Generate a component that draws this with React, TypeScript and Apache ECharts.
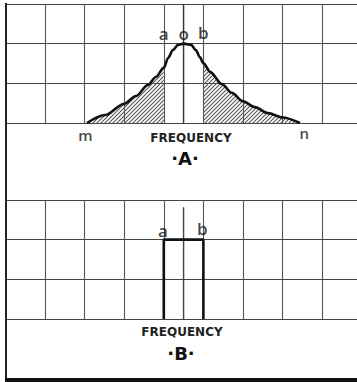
import React, { useEffect, useRef } from "react";
import * as echarts from "echarts";

// Panel A resonance curve (x in grid cells, y in grid cells)
const curveX = [2.06, 2.52, 2.99, 3.3, 3.6, 3.8, 4.0, 4.11, 4.23, 4.36, 4.5, 4.69, 4.81, 4.91, 5.0, 5.17, 5.47, 5.72, 6.0, 6.3, 6.63, 7.0, 7.44];
const curveY = [0, 0.2, 0.48, 0.68, 0.96, 1.16, 1.39, 1.64, 1.84, 1.97, 2.0, 1.97, 1.84, 1.66, 1.51, 1.29, 0.98, 0.76, 0.55, 0.4, 0.25, 0.14, 0];
const markA = 4.0;
const markO = 4.5;
const markB = 5.0;
// Panel B ideal band-pass rectangle
const rectX = [4.0, 4.0, 5.0, 5.0];
const rectY = [0, 2, 2, 0];
const labelsA = [
  { name: "a", x: 4.0, y: 2.25 },
  { name: "o", x: 4.5, y: 2.25 },
  { name: "b", x: 5.0, y: 2.28 },
];
const labelsEnds = [
  { name: "m", x: 2.02, y: -0.3 },
  { name: "n", x: 7.55, y: -0.24 },
];
const labelsB = [
  { name: "a", x: 3.98, y: 2.22 },
  { name: "b", x: 4.97, y: 2.27 },
];
const axisLabel = "FREQUENCY";
const panelA = "·A·";
const panelB = "·B·";

function makeHatch() {
  const s = 4;
  const c = document.createElement("canvas");
  c.width = s;
  c.height = s;
  const ctx = c.getContext("2d")!;
  ctx.strokeStyle = "#555";
  ctx.lineWidth = 1.1;
  ctx.beginPath();
  ctx.moveTo(0, s);
  ctx.lineTo(s, 0);
  ctx.moveTo(-1, 1);
  ctx.lineTo(1, -1);
  ctx.moveTo(s - 1, s + 1);
  ctx.lineTo(s + 1, s - 1);
  ctx.stroke();
  return c;
}

export default function App() {
  const ref = useRef<HTMLDivElement>(null);
  useEffect(() => {
    document.body.style.margin = "0";
    const chart = echarts.init(ref.current!, null, { renderer: "svg" });
    const hatch = { image: makeHatch(), repeat: "repeat", imageWidth: 4, imageHeight: 4 } as any;
    const pts = curveX.map((x, i) => [x, curveY[i]]);
    const leftPts = pts.filter((p) => p[0] <= markA + 1e-6);
    const rightPts = pts.filter((p) => p[0] >= markB - 1e-6);
    const xAx = (gi: number) => ({
      type: "value", gridIndex: gi, min: 0, max: 8.88, interval: 1,
      axisLine: { show: false }, axisTick: { show: false }, axisLabel: { show: false },
      splitLine: { show: true, showMinLine: false, showMaxLine: false, lineStyle: { color: "#555", width: 1.1 } },
    });
    const yAx = (gi: number) => ({
      type: "value", gridIndex: gi, min: 0, max: 3, interval: 1,
      axisLine: { show: false }, axisTick: { show: false }, axisLabel: { show: false },
      splitLine: { show: true, showMinLine: true, showMaxLine: true, lineStyle: { color: "#444", width: 1.2 } },
    });
    const txtLabel = (size: number) => ({
      show: true, position: "inside", formatter: "{b}", color: "#111",
      fontFamily: "'Open Sans', 'DejaVu Sans', sans-serif", fontWeight: 600, fontSize: size,
    });
    const scatter = (gi: number, arr: { name: string; x: number; y: number }[], size: number) => ({
      type: "scatter", xAxisIndex: gi, yAxisIndex: gi, clip: false, symbolSize: 1,
      itemStyle: { color: "rgba(0,0,0,0)" }, z: 10,
      label: txtLabel(size),
      data: arr.map((d) => ({ name: d.name, value: [d.x, d.y] })),
    });
    const smoothOpts = { smooth: 0.3, smoothMonotone: "x" };
    chart.setOption({
      animation: false,
      backgroundColor: "#ffffff",
      grid: [
        { left: 5.4, top: 4, width: 351.6, height: 119 },
        { left: 5.4, top: 200, width: 351.6, height: 119 },
      ],
      xAxis: [xAx(0), xAx(1)],
      yAxis: [yAx(0), yAx(1)],
      series: [
        {
          type: "line", xAxisIndex: 0, yAxisIndex: 0, data: leftPts, ...smoothOpts,
          symbol: "none", lineStyle: { width: 0 }, areaStyle: { color: hatch, opacity: 1 }, z: 2,
        },
        {
          type: "line", xAxisIndex: 0, yAxisIndex: 0, data: rightPts, ...smoothOpts,
          symbol: "none", lineStyle: { width: 0 }, areaStyle: { color: hatch, opacity: 1 }, z: 2,
        },
        {
          type: "line", xAxisIndex: 0, yAxisIndex: 0, data: [[markO, 0], [markO, 3]],
          symbol: "none", lineStyle: { color: "#333", width: 1.4 }, z: 3,
        },
        {
          type: "line", xAxisIndex: 0, yAxisIndex: 0, data: pts, ...smoothOpts,
          symbol: "none", lineStyle: { color: "#111", width: 2.6 }, z: 5,
        },
        scatter(0, labelsA, 17),
        scatter(0, labelsEnds, 15),
        {
          type: "line", xAxisIndex: 1, yAxisIndex: 1, data: [[markO, 0], [markO, 2.82]],
          symbol: "none", lineStyle: { color: "#444", width: 1.4 }, z: 3,
        },
        {
          type: "line", xAxisIndex: 1, yAxisIndex: 1, data: rectX.map((x, i) => [x, rectY[i]]),
          symbol: "none", lineStyle: { color: "#111", width: 2.6 }, z: 5,
        },
        scatter(1, labelsB, 17),
      ],
      graphic: [
        { type: "rect", shape: { x: 5, y: 3, width: 2, height: 379 }, style: { fill: "#222" }, z: 20 },
        { type: "rect", shape: { x: 5, y: 378, width: 352, height: 4 }, style: { fill: "#111" }, z: 20 },
        { type: "text", x: 191, y: 138, style: { text: axisLabel, font: "bold 12px 'DejaVu Sans'", fill: "#222", textAlign: "center", textVerticalAlign: "middle" } },
        { type: "text", x: 185, y: 158, style: { text: panelA, font: "bold 18px 'DejaVu Sans'", fill: "#111", textAlign: "center", textVerticalAlign: "middle" } },
        { type: "text", x: 182, y: 332, style: { text: axisLabel, font: "bold 12px 'DejaVu Sans'", fill: "#222", textAlign: "center", textVerticalAlign: "middle" } },
        { type: "text", x: 181, y: 353, style: { text: panelB, font: "bold 18px 'DejaVu Sans'", fill: "#111", textAlign: "center", textVerticalAlign: "middle" } },
      ],
    });
    return () => chart.dispose();
  }, []);
  return <div ref={ref} style={{ position: "fixed", left: 0, top: 0, width: 357, height: 382 }} />;
}
